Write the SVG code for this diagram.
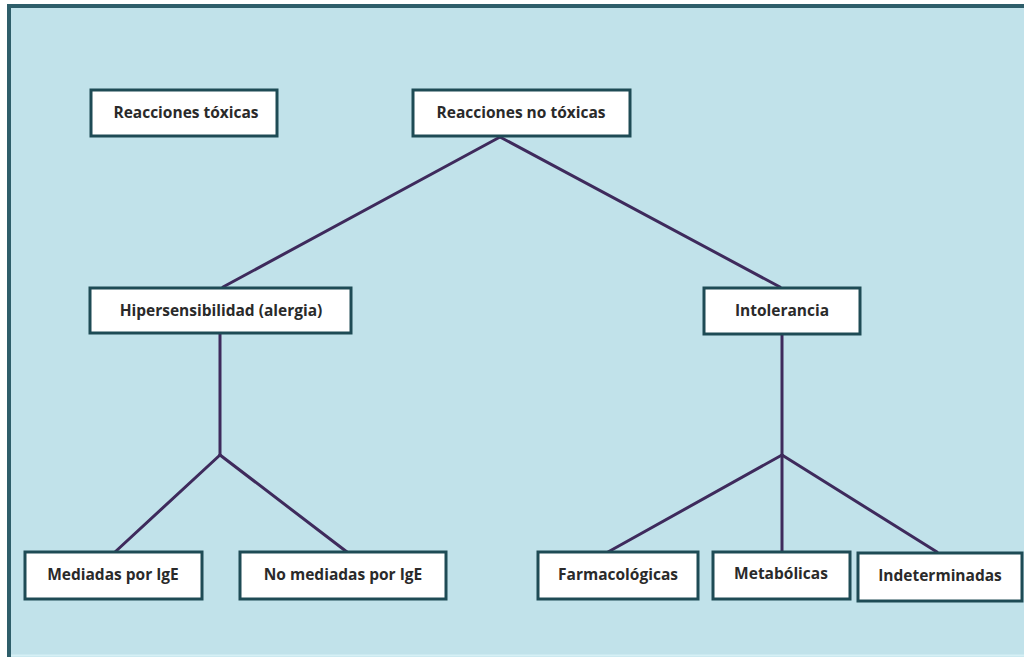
<svg xmlns="http://www.w3.org/2000/svg" width="1024" height="657" viewBox="0 0 1024 657">
<style>
.box{fill:#ffffff;stroke:#1e4b55;stroke-width:3}
.lbl{font-family:"Open Sans","Liberation Sans",sans-serif;font-weight:bold;font-size:15.5px;fill:#2a2a2a;text-anchor:middle;dominant-baseline:central}
.conn line{stroke:#3e2a5c;stroke-width:3;stroke-linecap:round}
</style>
<rect x="0" y="0" width="1024" height="657" fill="#ffffff"/>
<rect x="9" y="6" width="1015" height="651" fill="#c1e2ea"/>
<line x1="9" y1="6" x2="1024" y2="6" stroke="#2e5e6a" stroke-width="4"/>
<line x1="9" y1="4" x2="9" y2="657" stroke="#2e5e6a" stroke-width="4"/>
<line x1="11" y1="655.5" x2="1024" y2="655.5" stroke="#d6f0f5" stroke-width="2"/>
<g id="connectors" class="conn">
<line x1="500" y1="137" x2="223" y2="287"/>
<line x1="500" y1="137" x2="780" y2="287"/>
<line x1="220" y1="334" x2="220" y2="455"/>
<line x1="220" y1="455" x2="115" y2="552"/>
<line x1="220" y1="455" x2="347" y2="552"/>
<line x1="782" y1="334" x2="782" y2="455"/>
<line x1="782" y1="455" x2="608" y2="552"/>
<line x1="782" y1="455" x2="782" y2="552"/>
<line x1="782" y1="455" x2="937" y2="552"/>
</g>
<g id="n-toxicas"><rect class="box" x="91" y="90" width="186" height="46"/><text class="lbl" x="186" y="112">Reacciones tóxicas</text></g>
<g id="n-notoxicas"><rect class="box" x="413" y="90" width="217" height="46"/><text class="lbl" x="521" y="112">Reacciones no tóxicas</text></g>
<g id="n-hiper"><rect class="box" x="90" y="288" width="261" height="45"/><text class="lbl" x="221" y="310">Hipersensibilidad (alergia)</text></g>
<g id="n-intol"><rect class="box" x="704" y="288" width="156" height="46"/><text class="lbl" x="782" y="310">Intolerancia</text></g>
<g id="n-mediadas"><rect class="box" x="25" y="552" width="177" height="47"/><text class="lbl" x="113" y="574">Mediadas por IgE</text></g>
<g id="n-nomediadas"><rect class="box" x="240" y="552" width="206" height="47"/><text class="lbl" x="343" y="574">No mediadas por IgE</text></g>
<g id="n-farma"><rect class="box" x="538" y="552" width="160" height="47"/><text class="lbl" x="618" y="574">Farmacológicas</text></g>
<g id="n-metab"><rect class="box" x="713" y="552" width="137" height="47"/><text class="lbl" x="781" y="573">Metabólicas</text></g>
<g id="n-indet"><rect class="box" x="858" y="553" width="164" height="48"/><text class="lbl" x="940" y="575">Indeterminadas</text></g>
</svg>
